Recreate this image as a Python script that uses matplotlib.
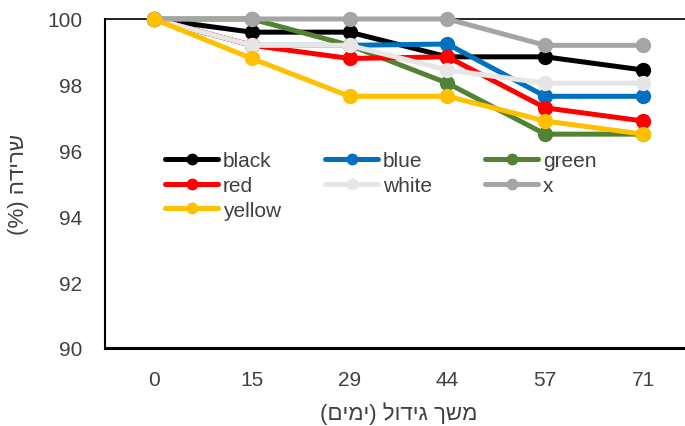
import matplotlib
matplotlib.use("Agg")
import matplotlib.pyplot as plt
from matplotlib.legend import Legend

days = ["0", "15", "29", "44", "57", "71"]
black = [100, 99.6, 99.6, 98.85, 98.85, 98.45]
blue = [100, 99.2, 99.2, 99.24, 97.65, 97.65]
green = [100, 100, 99.2, 98.05, 96.5, 96.5]
red = [100, 99.2, 98.8, 98.85, 97.3, 96.9]
white = [100, 99.2, 99.2, 98.45, 98.05, 98.05]
x_series = [100, 100, 100, 100, 99.2, 99.2]
yellow = [100, 98.8, 97.65, 97.65, 96.9, 96.5]

names = ["black", "blue", "green", "red", "white", "x", "yellow"]
values = [black, blue, green, red, white, x_series, yellow]
colors = ["#000000", "#0070C0", "#548235", "#FF0000", "#E7E6E6", "#A5A5A5", "#FFC000"]

# visual (display) order of the right-to-left Hebrew titles
x_title = "(םימי) לודיג ךשמ"
y_title = "(%) הדירש"

plt.rcParams['font.family'] = ['Liberation Sans', 'DejaVu Sans']
text_col = '#404040'

fig = plt.figure(figsize=(6.85, 4.27), dpi=100)
ax = fig.add_axes([105/685, (427-349)/427, 587/685, 329/427])

xs = list(range(len(days)))
handles = {}
for name, vals, col in zip(names, values, colors):
    h, = ax.plot(xs, vals, color=col, lw=3.6, marker='o', markersize=10,
                 markerfacecolor=col, markeredgecolor=col, label=name,
                 solid_capstyle='round', clip_on=False, zorder=3)
    handles[name] = h

ax.set_xlim(-0.5, 5.5)
ax.set_ylim(90, 100)
ax.set_xticks(xs)
ax.set_xticklabels(days)
ax.set_yticks([90, 92, 94, 96, 98, 100])
ax.tick_params(axis='both', length=0, labelsize=15, colors=text_col)
ax.tick_params(axis='y', pad=16.5)
ax.tick_params(axis='x', pad=16)

ax.spines['right'].set_visible(False)
ax.spines['top'].set_linewidth(1.2)
ax.spines['left'].set_linewidth(1.5)
ax.spines['bottom'].set_linewidth(2.2)
for s in ax.spines.values():
    s.set_color('black')

ax.set_xlabel(x_title, fontsize=16, color=text_col, labelpad=9)
ax.set_ylabel(y_title, fontsize=16, color=text_col, labelpad=13)

columns = [["black", "red", "yellow"], ["blue", "white"], ["green", "x"]]
col_x = [157, 317, 477]
for cx, group in zip(col_x, columns):
    leg = Legend(fig, [handles[n] for n in group], group, loc='upper left',
                 bbox_to_anchor=(cx/685, 1 - 144/427), frameon=False, fontsize=15,
                 handlelength=2.55, handletextpad=0.2, labelspacing=0.27,
                 borderaxespad=0, markerscale=0.75)
    for t in leg.get_texts():
        t.set_color(text_col)
    fig.add_artist(leg)

fig.savefig("out.png", dpi=100)
